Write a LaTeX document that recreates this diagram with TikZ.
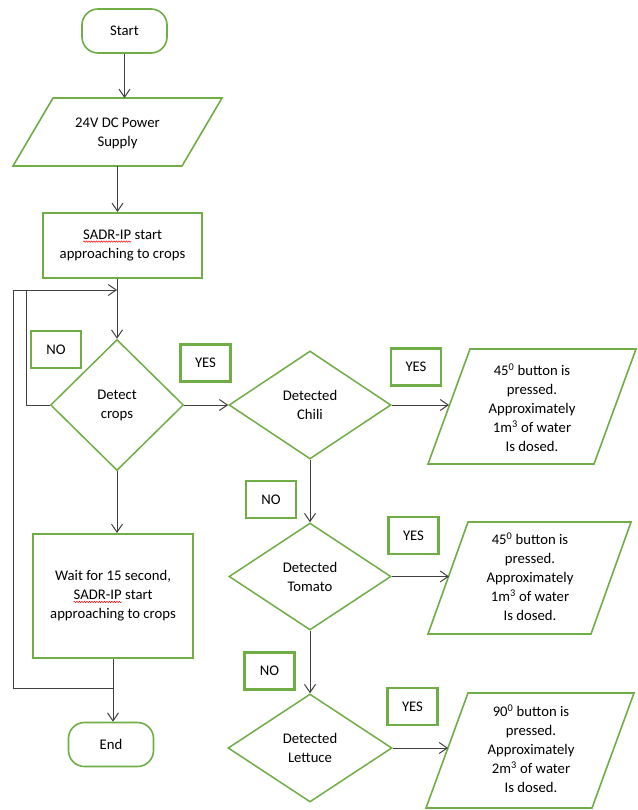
\documentclass[tikz,border=0pt]{standalone}
\usepackage{fontspec}
\setmainfont{Carlito}
\usetikzlibrary{arrows.meta,shapes.geometric,decorations.pathmorphing}
\definecolor{grn}{HTML}{70AD47}
\definecolor{ln}{HTML}{404040}
\newcommand\spell[1]{\tikz[baseline=(w.base)]{\node[shape=rectangle,draw=none,fill=none,inner sep=0pt,outer sep=0pt,minimum width=0pt,minimum height=0pt](w){#1};\draw[red,line width=0.5pt,decorate,decoration={snake,amplitude=0.7pt,segment length=2.5pt}]([yshift=-2pt]w.south west)--([yshift=-2pt]w.south east);}}
\begin{document}
\begin{tikzpicture}[x=1pt,y=-1pt,
 every node/.style={font=\fontsize{14.7}{19}\selectfont, text=black, align=center},
 term/.style={draw=grn,line width=1.6pt,rounded corners=16pt,minimum width=85pt,minimum height=44pt},
 proc/.style={draw=grn,line width=2pt,shape=rectangle},
 dec/.style={draw=grn,line width=1.5pt,diamond,inner sep=0pt},
 lbl/.style={draw=grn,line width=2.2pt,minimum width=50pt,minimum height=37pt,inner sep=0pt},
 para/.style={draw=grn,line width=1.6pt},
 arr/.style={draw=ln,line width=1pt,-{Straight Barb[length=8pt,width=11pt,line width=1pt]}},
 con/.style={draw=ln,line width=1pt}]
\fill[white] (0,0) rectangle (637,810);
\useasboundingbox (0,0) rectangle (637,810);

% Start and power supply
\node[term] (start) at (124.5,31) {Start};
\draw[para] (53,98) -- (222,98) -- (182,166) -- (13,166) -- cycle;
\node (power) at (117.5,133) {24V DC Power\\Supply};
\coordinate (powtop) at (124.5,98);
\coordinate (powbot) at (117.5,166);

\node[proc,minimum width=159pt,minimum height=65pt] (sadr) at (122.5,245.5) {\spell{SADR-IP} start\\approaching to crops};

\node[dec,minimum width=133pt,minimum height=131pt] (detect) at (117,405) {Detect\\crops};
\node[lbl] (no1) at (56,349.5) {NO};
\node[lbl] (yes1) at (205.5,363) {YES};

\node[dec,minimum width=162pt,minimum height=108pt] (chili) at (310,405) {Detected\\Chili};
\node[lbl] (yes2) at (416,367) {YES};
\draw[para] (470,349) -- (636,349) -- (594,464) -- (428,464) -- cycle;
\node (t1) at (532,408) {45\textsuperscript{0} button is\\pressed.\\Approximately\\1m\textsuperscript{3} of water\\Is dosed.};
\coordinate (p1in) at (449,405);

\node[lbl] (no2) at (271,499.5) {NO};
\node[dec,minimum width=162pt,minimum height=107pt] (tomato) at (310,576.5) {Detected\\Tomato};
\node[lbl] (yes3) at (413.5,535.5) {YES};
\draw[para] (468,522) -- (631,522) -- (591,634) -- (428,634) -- cycle;
\node (t2) at (530,577) {45\textsuperscript{0} button is\\pressed.\\Approximately\\1m\textsuperscript{3} of water\\Is dosed.};
\coordinate (p2in) at (449,576.5);

\node[lbl] (no3) at (269.5,671) {NO};
\node[dec,minimum width=164pt,minimum height=108pt] (lettuce) at (310,748) {Detected\\Lettuce};
\node[lbl] (yes4) at (412.5,706.5) {YES};
\draw[para] (468,693) -- (634,693) -- (592,808) -- (426,808) -- cycle;
\node (t3) at (531,749) {90\textsuperscript{0} button is\\pressed.\\Approximately\\2m\textsuperscript{3} of water\\Is dosed.};
\coordinate (p3in) at (448,748);

\node[proc,minimum width=160pt,minimum height=124pt] (wait) at (113,596) {Wait for 15 second,\\\spell{SADR-IP} start\\approaching to crops};
\node[term] (end) at (111,744.5) {End};

% connectors
\draw[arr] (start.south) -- (powtop);
\draw[arr] (powbot) -- (powbot |- sadr.north);
\draw[arr] (detect.north |- sadr.south) -- (detect.north);
\draw[arr] (detect.east) -- (chili.west);
\draw[arr] (chili.east) -- (p1in);
\draw[arr] (chili.south) -- (chili.south |- tomato.north);
\draw[arr] (tomato.east) -- (p2in);
\draw[arr] (tomato.south) -- (tomato.south |- lettuce.north);
\draw[arr] (lettuce.east) -- (p3in);
\draw[arr] (detect.south) -- (detect.south |- wait.north);
\draw[arr] (wait.south) -- (wait.south |- end.north);
\coordinate (j) at (113,688);
\coordinate (m) at (117,290);
\coordinate (lc) at (26,290);
\draw[con] (j) -| (13,290) -- (lc);
\draw[arr] (detect.west) -| (lc) -- (m);
\end{tikzpicture}
\end{document}
